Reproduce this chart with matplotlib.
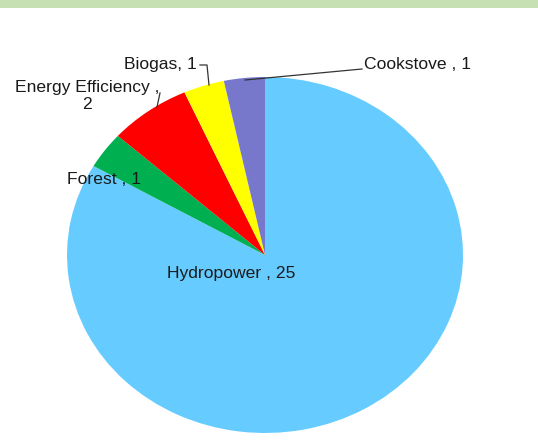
import numpy as np
import matplotlib
matplotlib.use("Agg")
import matplotlib.pyplot as plt
from matplotlib.patches import Rectangle

# data
labels = ["Hydropower", "Forest", "Energy Efficiency", "Biogas", "Cookstove"]
values = [25, 1, 2, 1, 1]
colors = ["#66CCFF", "#00B050", "#FF0000", "#FFFF00", "#7777CC"]

plt.rcParams['font.family'] = ['Liberation Sans', 'DejaVu Sans']

W, H = 538, 440
fig = plt.figure(figsize=(W/100, H/100), dpi=100)
fig.patches.append(Rectangle((0, 1 - 8/H), 1, 8/H, transform=fig.transFigure,
                             facecolor="#C6E0B4", edgecolor="none"))

# pie box in pixels: x 67..463, y 77..433
ax = fig.add_axes([67/W, 7/H, 396/W, 356/H])
wedges, _ = ax.pie(values, colors=colors, startangle=90, counterclock=False,
                   wedgeprops=dict(linewidth=0))
ax.set_aspect('auto')
ax.set_xlim(-1, 1); ax.set_ylim(-1, 1)
ax.axis("off")

def px(x, y):
    # pixel position -> data coords of the pie
    return (x - 265) / 198, (255 - y) / 178

fs = 12.6
tc = "#1a1a1a"
lc = "#333333"

# Hydropower
x, y = px(231, 273)
ax.text(x, y, "%s , %d" % (labels[0], values[0]), ha="center", va="center", fontsize=fs, color=tc)

# Forest
x, y = px(141, 179)
ax.text(x, y, "%s , %d" % (labels[1], values[1]), ha="right", va="center", fontsize=fs, color=tc)

# Energy Efficiency
x, y = px(87, 96)
ax.text(x, y, "%s ,\n%d" % (labels[2], values[2]), ha="center", va="center", fontsize=fs,
        color=tc, linespacing=1.12)
x0, y0 = px(160, 93)
x1, y1 = px(157, 107)
ax.plot([x0, x1], [y0, y1], color=lc, lw=0.9, clip_on=False)

# Biogas
x, y = px(197, 64)
ax.text(x, y, "%s, %d" % (labels[3], values[3]), ha="right", va="center", fontsize=fs, color=tc)
x0, y0 = px(200, 65)
x1, y1 = px(207, 65)
x2, y2 = px(209, 85)
ax.plot([x0, x1, x2], [y0, y1, y2], color=lc, lw=0.9, clip_on=False)

# Cookstove
x, y = px(364, 64)
ax.text(x, y, "%s , %d" % (labels[4], values[4]), ha="left", va="center", fontsize=fs, color=tc)
x0, y0 = px(362, 69)
x1, y1 = px(245, 80)
ax.plot([x0, x1], [y0, y1], color=lc, lw=0.9, clip_on=False)

fig.savefig("out.png", dpi=100)
